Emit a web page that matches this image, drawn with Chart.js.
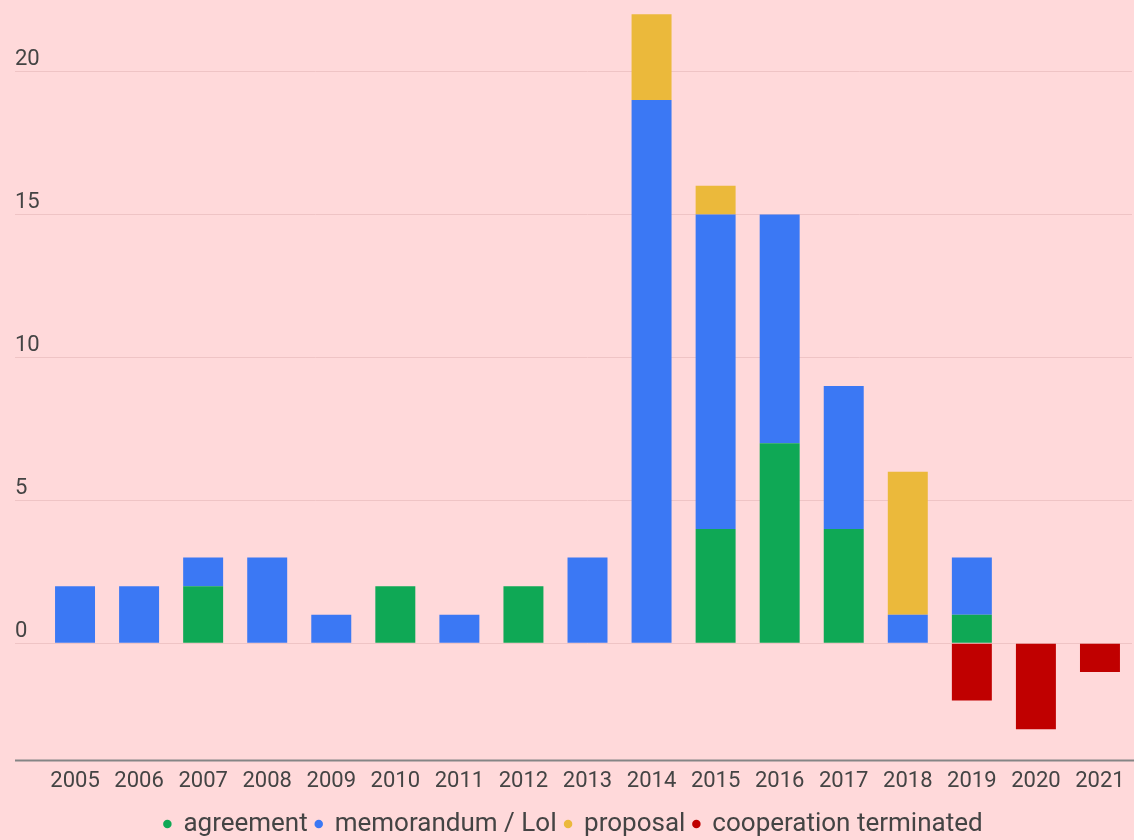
<!DOCTYPE html>
<html>
<head>
<meta charset="utf-8">
<script src="https://cdn.jsdelivr.net/npm/chart.js@4"></script>
<style>
  html, body { margin: 0; padding: 0; background: #ffd9da; }
  #wrap { width: 1134px; height: 840px; position: relative; }
</style>
</head>
<body>
<div id="wrap"><canvas id="c"></canvas></div>
<script>
const years = ['2005','2006','2007','2008','2009','2010','2011','2012','2013','2014','2015','2016','2017','2018','2019','2020','2021'];
const agreement   = [0, 0, 2, 0, 0, 2, 0, 2, 0, 0, 4, 7, 4, 0, 1, 0, 0];
const memorandum  = [2, 2, 1, 3, 1, 0, 1, 0, 3, 19, 11, 8, 5, 1, 2, 0, 0];
const proposal    = [0, 0, 0, 0, 0, 0, 0, 0, 0, 3, 1, 0, 0, 5, 0, 0, 0];
const terminated  = [0, 0, 0, 0, 0, 0, 0, 0, 0, 0, 0, 0, 0, 0, -2, -3, -1];
const yTicks = [0, 5, 10, 15, 20];

const textColor = '#444444';
const gridColor = '#efc4c5';
const tickFont = '22px Roboto';

const decor = {
  id: 'decor',
  beforeLayout(chart) {
    const lg = chart.legend;
    if (lg && !lg._patched) {
      const orig = lg.fit;
      lg.fit = function () { orig.call(this); this.height -= 7; };
      lg._patched = true;
    }
  },
  afterDatasetsDraw(chart) {
    const {ctx, chartArea, scales} = chart;
    const y = scales.y;
    ctx.save();
    ctx.fillStyle = textColor;
    ctx.font = tickFont;
    ctx.textAlign = 'left';
    ctx.textBaseline = 'alphabetic';
    yTicks.forEach(v => {
      ctx.fillText(String(v), y.left, y.getPixelForValue(v) - 6);
    });
    ctx.strokeStyle = '#858585';
    ctx.lineWidth = 2;
    ctx.beginPath();
    ctx.moveTo(y.left, chartArea.bottom);
    ctx.lineTo(chart.width, chartArea.bottom);
    ctx.stroke();
    ctx.restore();
  }
};

const common = { barPercentage: 0.78, categoryPercentage: 0.8, borderWidth: 0 };

new Chart(document.getElementById('c'), {
  type: 'bar',
  data: {
    labels: years,
    datasets: [
      { label: 'agreement', data: agreement, backgroundColor: '#0fa855', ...common },
      { label: 'memorandum / LoI', data: memorandum, backgroundColor: '#3b78f4', ...common },
      { label: 'proposal', data: proposal, backgroundColor: '#ebb93b', ...common },
      { label: 'cooperation terminated', data: terminated, backgroundColor: '#c00000', ...common }
    ]
  },
  options: {
    responsive: true,
    maintainAspectRatio: false,
    animation: false,
    layout: { padding: { left: 15, right: 2, top: 0, bottom: 0 } },
    plugins: {
      tooltip: { enabled: false },
      legend: {
        position: 'bottom',
        labels: {
          usePointStyle: true,
          pointStyle: 'circle',
          boxWidth: 6,
          boxHeight: 6,
          padding: 8,
          color: textColor,
          font: { family: 'Roboto', size: 26 }
        }
      }
    },
    scales: {
      x: {
        stacked: true,
        grid: { display: false },
        border: { display: false },
        afterFit: s => { s.height += 8; },
        ticks: { color: textColor, font: { family: 'Roboto', size: 22 }, padding: 0, maxRotation: 0, autoSkip: false }
      },
      y: {
        stacked: true,
        min: -4.1,
        max: 22.5,
        afterBuildTicks: s => { s.ticks = yTicks.map(v => ({ value: v })); },
        grid: { color: gridColor, tickLength: 28, drawTicks: true, lineWidth: 1 },
        border: { display: false },
        ticks: { display: false }
      }
    }
  },
  plugins: [decor]
});
</script>
</body>
</html>
